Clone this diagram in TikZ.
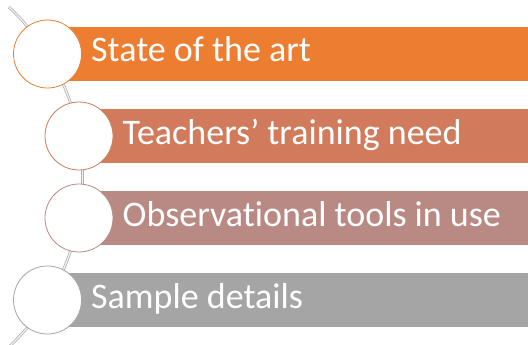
\documentclass[tikz,border=0pt]{standalone}
\usepackage{fontspec}
\setmainfont[Ligatures={NoCommon,NoContextual}]{Carlito}
\definecolor{colA}{HTML}{ED7D31}
\definecolor{colB}{HTML}{D17B5C}
\definecolor{colC}{HTML}{B98A83}
\definecolor{colD}{HTML}{A5A5A5}
\tikzset{
  conn/.style={draw=gray!65, line width=0.7pt, double=gray!12, double distance=1.3pt},
  bar/.style={rectangle, inner sep=0pt, minimum height=54pt, anchor=west, draw=none},
  circ/.style={circle, fill=white, line width=0.8pt, minimum size=68pt, inner sep=0pt},
  lbl/.style={anchor=base west, inner sep=0pt, text=white, font=\fontsize{36}{43}\selectfont}
}
\begin{document}
\begin{tikzpicture}
\useasboundingbox (0pt,0pt) rectangle (528pt,-345pt);
\coordinate (arccenter) at (-150.2pt,-177pt);
\draw[conn] (arccenter) ++(46.9:232.8pt) coordinate (arctop) arc[start angle=46.9, end angle=-46.9, radius=232.8pt] coordinate (arcbot);
% bars
\node[bar, fill=colA, minimum width=480.5pt] (b1) at (47.5pt,-54pt) {};
\node[bar, fill=colB, minimum width=449pt] (b2) at (79pt,-136pt) {};
\node[bar, fill=colC, minimum width=449pt] (b3) at (79pt,-218pt) {};
\node[bar, fill=colD, minimum width=480.5pt] (b4) at (47.5pt,-300pt) {};
% circles
\node[circ, draw=colA] (c1) at (47.5pt,-54pt) {};
\node[circ, draw=colB] (c2) at (79pt,-136pt) {};
\node[circ, draw=colC] (c3) at (79pt,-218pt) {};
\node[circ, draw=colD] (c4) at (47.5pt,-300pt) {};
% labels
\node[lbl] (t1) at (91pt,-62pt) {State of the art};
\node[lbl] (t2) at (122.5pt,-144pt) {Teachers’ training need};
\node[lbl] (t3) at (122.5pt,-226pt) {Observat\kern0pt ional tools in use};
\node[lbl] (t4) at (91pt,-308pt) {Sample details};
\end{tikzpicture}
\end{document}
